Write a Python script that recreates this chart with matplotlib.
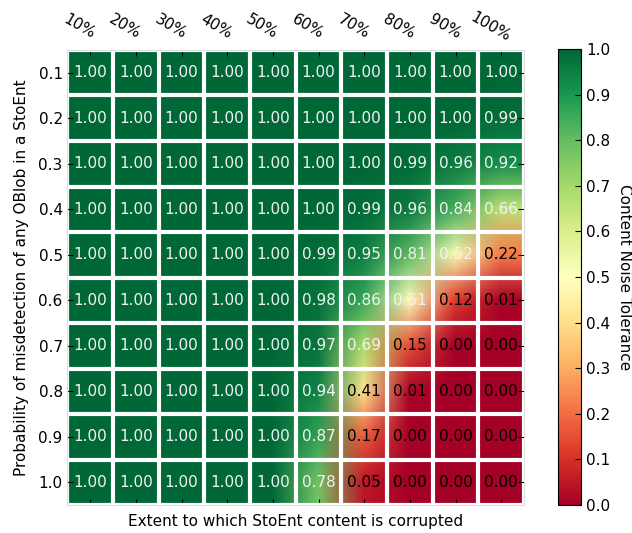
import numpy as np
import matplotlib
matplotlib.use("Agg")
import matplotlib.pyplot as plt
import matplotlib.transforms as mtransforms
from matplotlib.cm import ScalarMappable
from matplotlib.colors import Normalize

col_labels = ["10%", "20%", "30%", "40%", "50%", "60%", "70%", "80%", "90%", "100%"]
row_labels = ["0.1", "0.2", "0.3", "0.4", "0.5", "0.6", "0.7", "0.8", "0.9", "1.0"]

tolerance = np.array([
    [1.00, 1.00, 1.00, 1.00, 1.00, 1.00, 1.00, 1.00, 1.00, 1.00],
    [1.00, 1.00, 1.00, 1.00, 1.00, 1.00, 1.00, 1.00, 1.00, 0.99],
    [1.00, 1.00, 1.00, 1.00, 1.00, 1.00, 1.00, 0.99, 0.96, 0.92],
    [1.00, 1.00, 1.00, 1.00, 1.00, 1.00, 0.99, 0.96, 0.84, 0.66],
    [1.00, 1.00, 1.00, 1.00, 1.00, 0.99, 0.95, 0.81, 0.52, 0.22],
    [1.00, 1.00, 1.00, 1.00, 1.00, 0.98, 0.86, 0.51, 0.12, 0.01],
    [1.00, 1.00, 1.00, 1.00, 1.00, 0.97, 0.69, 0.15, 0.00, 0.00],
    [1.00, 1.00, 1.00, 1.00, 1.00, 0.94, 0.41, 0.01, 0.00, 0.00],
    [1.00, 1.00, 1.00, 1.00, 1.00, 0.87, 0.17, 0.00, 0.00, 0.00],
    [1.00, 1.00, 1.00, 1.00, 1.00, 0.78, 0.05, 0.00, 0.00, 0.00],
])

fig = plt.figure(figsize=(6.32, 5.33), dpi=100)
ax = fig.add_axes([0.1068, 0.0525, 0.7223, 0.8537])
cax = fig.add_axes([0.8829, 0.0525, 0.0364, 0.8555])

cmap = plt.get_cmap("RdYlGn")
norm = Normalize(vmin=0, vmax=1)
# old-style look: blend the colours, not the values
ax.imshow(tolerance, cmap=cmap, norm=norm, interpolation="bilinear",
          interpolation_stage="rgba", aspect="auto")

n = len(col_labels)
ax.set_xticks(np.arange(n))
ax.set_xticklabels([])
ax.set_yticks(np.arange(len(row_labels)))
ax.set_yticklabels(row_labels, fontsize=11)
ax.tick_params(which="major", direction="in", top=True, bottom=True, left=True, right=True,
               length=4, width=0.8, color="black", labelbottom=False)

# top labels, tilted
shift = mtransforms.ScaledTranslation(-11 / 100, 23 / 100, fig.dpi_scale_trans)
top = mtransforms.blended_transform_factory(ax.transData, ax.transAxes)
for j, lab in enumerate(col_labels):
    ax.text(j, 1.0, lab, transform=top + shift, rotation=-30, fontsize=11,
            ha="center", va="center")

# white separators between cells
ax.set_xticks(np.arange(-0.5, n, 1), minor=True)
ax.set_yticks(np.arange(-0.5, len(row_labels), 1), minor=True)
ax.grid(which="minor", color="white", linewidth=3)
ax.tick_params(which="minor", length=0)
for sp in ax.spines.values():
    sp.set_color("#dddddd")

for i in range(tolerance.shape[0]):
    for j in range(tolerance.shape[1]):
        v = tolerance[i, j]
        ax.text(j, i, "%.2f" % v, ha="center", va="center", fontsize=11,
                color="#f2f2f2" if v > 0.5 else "black")

ax.set_xlabel("Extent to which StoEnt content is corrupted", fontsize=11, labelpad=3)
ax.set_ylabel("Probability of misdetection of any OBlob in a StoEnt", fontsize=11, labelpad=7)

sm = ScalarMappable(norm=norm, cmap=cmap)
cb = fig.colorbar(sm, cax=cax, ticks=np.arange(0, 1.01, 0.1))
cb.ax.tick_params(direction="in", length=4, labelsize=11)
cb.set_label("Content Noise Tolerance", rotation=-90, fontsize=11, labelpad=16)

fig.savefig("out.png", dpi=100)
